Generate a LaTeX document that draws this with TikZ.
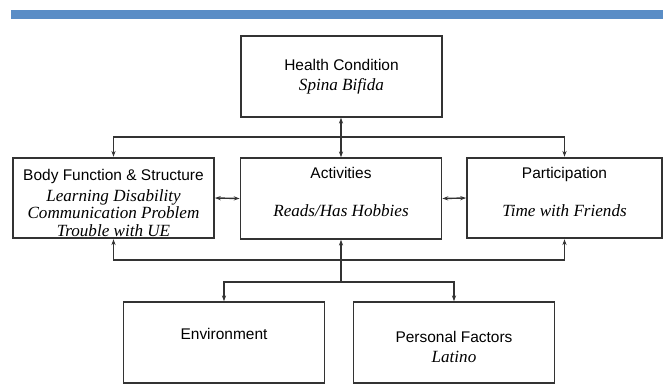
\documentclass[tikz,border=0pt]{standalone}
\usepackage{fontspec}
\setmainfont{Liberation Serif}
\newfontfamily\headfont{Liberation Sans}
\usetikzlibrary{arrows.meta}
\definecolor{barblue}{HTML}{5A8DC6}
\definecolor{inkgray}{HTML}{333333}
\newcommand{\hd}{\headfont\fontsize{13.2}{15}\selectfont}
\newcommand{\tx}{\rmfamily\itshape\fontsize{14.6}{14}\selectfont}

\begin{document}
\begin{tikzpicture}[
    x=0.03cm, y=-0.03cm,
    box/.style={draw=inkgray, line width=1.6pt, align=center, inner sep=0pt,
      minimum width=6.03cm, minimum height=2.42cm, font=\hd},
    link/.style={draw=inkgray, line width=1.2pt},
    arr/.style={link, -{Stealth[length=5pt,width=3.6pt]}},
    twoarr/.style={link, {Stealth[length=5pt,width=3.6pt]}-{Stealth[length=5pt,width=3.6pt]}}
  ]
    \useasboundingbox (0,0) rectangle (663,389);
    % --- barra blu in alto ---
    \fill[barblue] (11,10) rectangle (663,19);

    % --- riquadri ---
    \node[box] (health) at (341.5,76.5) {Health Condition\\[2pt]{\tx Spina Bifida}};
    \node[box] (body) at (113.5,198) {\rule{0pt}{18pt}Body Function \& Structure\\[3pt]{\tx Learning Disability}\\{\tx Communication Problem}\\{\tx Trouble with UE}};
    \node[box] (activ) at (341,198.5) {Activities\\[17.7pt]{\tx Reads/Has Hobbies}\rule[-11pt]{0pt}{11pt}};
    \node[box, minimum width=5.85cm] (partic) at (564.5,198) {Participation\\[17.7pt]{\tx Time with Friends}\rule[-11pt]{0pt}{11pt}};
    \node[box] (envir) at (224,342.5) {Environment\\\mbox{}};
    \node[box] (person) at (454,342.5) {\rule{0pt}{16.5pt}Personal Factors\\[2pt]{\tx Latino}};

    % --- punti di snodo ---
    \coordinate (topbus) at (341,137);
    \coordinate (lowbus) at (341,282);

    % --- collegamenti ---
    \draw[twoarr] (health.south -| activ.north) -- (activ.north);
    \draw[arr] (topbus) -| (body.north);
    \draw[arr] (topbus) -| (partic.north);
    \draw[twoarr] (body.east) -- (activ.west);
    \draw[twoarr] (activ.east) -- (partic.west);
    \draw[twoarr] (body.south) |- (341,260) -| (partic.south);
    \draw[arr] (lowbus) -- (activ.south);
    \draw[arr] (lowbus) -| (envir.north);
    \draw[arr] (lowbus) -| (person.north);
\end{tikzpicture}
\end{document}
